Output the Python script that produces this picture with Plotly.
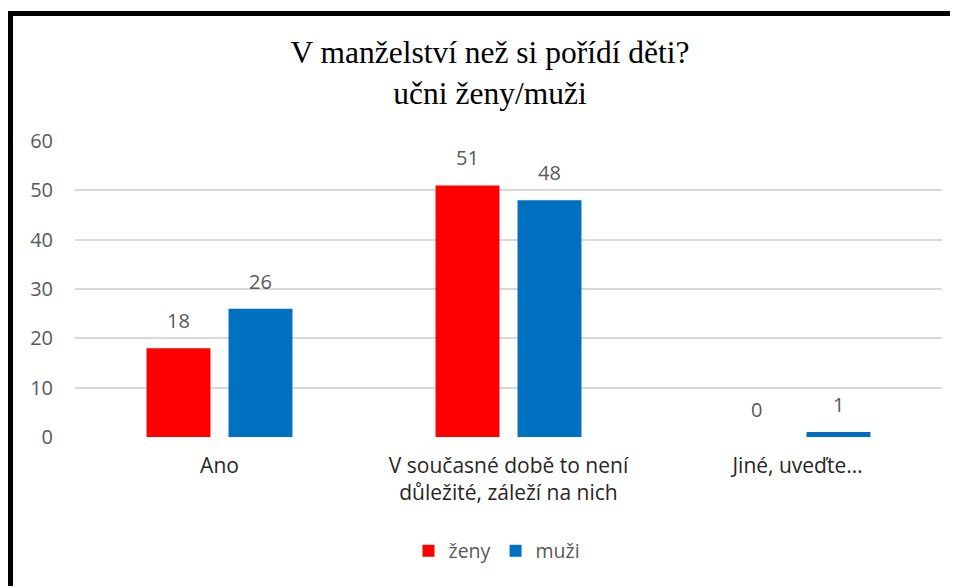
import plotly.graph_objects as go

categories = ["Ano", "V současné době to není<br>důležité, záleží na nich", "Jiné, uveďte…"]
zeny = [18, 51, 0]
muzi = [26, 48, 1]
series_names = ["ženy", "muži"]
series_colors = ["#FF0000", "#0070C0"]
y_ticks = [0, 10, 20, 30, 40, 50, 60]

FONT = "Open Sans"
GRAY = "#595959"

# page offset (browser body margin) compensation
OFF = 8
L, R_EDGE, TOP, BOT = 75 - OFF, 942 - OFF, 141 - OFF, 437 - OFF
W, H = 958, 586
PW, PH = R_EDGE - L, BOT - TOP

fig = go.Figure()
for name, vals, col in zip(series_names, [zeny, muzi], series_colors):
    fig.add_trace(go.Bar(name=name, x=categories, y=vals, marker_color=col,
                         marker_line_width=0))

BARGAP, GROUPGAP = 0.4325, 0.22
band = PW / len(categories)
slot = band * (1 - BARGAP) / 2
for i, vals in enumerate([zeny, muzi]):
    for c, v in zip(categories, vals):
        fig.add_annotation(x=c, y=v, xref="x", yref="y", text=str(v), showarrow=False,
                           xshift=(i - 0.5) * slot, yshift=12, yanchor="bottom",
                           font=dict(family=FONT, size=20, color=GRAY))

fig.update_layout(
    width=W, height=H,
    margin=dict(l=L, r=W - R_EDGE, t=TOP, b=H - BOT),
    paper_bgcolor="white", plot_bgcolor="white",
    barmode="group", bargap=BARGAP, bargroupgap=GROUPGAP,
    title=dict(text="V manželství než si pořídí děti?<br>učni ženy/muži",
               font=dict(family="Liberation Serif", size=31.5, color="black"),
               x=(490 - OFF) / W, xanchor="center", y=1 - 55 / H, yanchor="top"),
    legend=dict(orientation="h", x=(497 - OFF) / W, xref="container", xanchor="center",
                y=1 - (551 - OFF) / H, yref="container", yanchor="middle",
                font=dict(family=FONT, size=19.5, color=GRAY),
                itemwidth=30, traceorder="normal"),
    xaxis=dict(showgrid=False, showline=False, ticks="", ticklabelstandoff=14,
               tickfont=dict(family=FONT, size=21, color="#262626")),
    yaxis=dict(range=[0, 60], tickvals=y_ticks, showgrid=True, gridcolor="#D9D9D9",
               gridwidth=1.5, zeroline=False, showline=False,
               tickfont=dict(family=FONT, size=20, color=GRAY), ticklabelstandoff=21),
    showlegend=True,
)

# outer black frame (partially beyond the page on right and bottom)
fig.add_shape(type="rect", xref="paper", yref="paper",
              x0=(10.5 - OFF - L) / PW, x1=(980 - L) / PW,
              y0=(BOT - 610) / PH, y1=(BOT - (13.5 - OFF)) / PH,
              line=dict(color="black", width=5), layer="above")

fig.write_html("out.html")
